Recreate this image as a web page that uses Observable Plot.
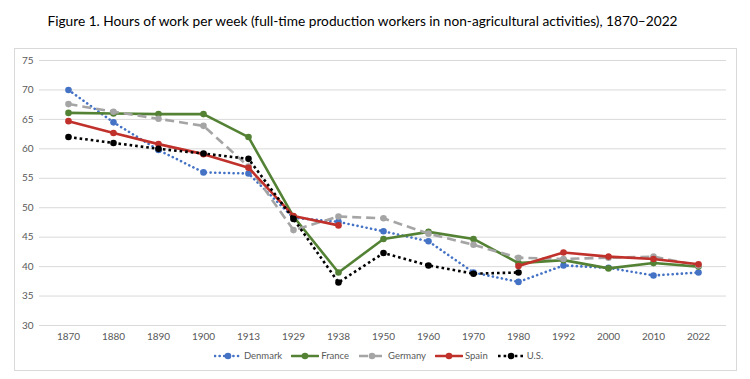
<!DOCTYPE html>
<html>
<head>
<meta charset="utf-8">
<script src="https://cdn.jsdelivr.net/npm/d3@7"></script>
<script src="https://cdn.jsdelivr.net/npm/@observablehq/plot@0.6"></script>
<style>
  html, body { margin: 0; padding: 0; background: #fff; }
  body { width: 750px; height: 379px; position: relative; overflow: hidden; font-family: Lato, "Open Sans", sans-serif; }
  #title { position: absolute; left: 0; width: 725px; top: 12px; text-align: center; font-size: 13.7px; color: #000; white-space: nowrap; }
  #frame { position: absolute; left: 14px; top: 48px; width: 721px; height: 321px; border: 1px solid #d9d9d9; }
  #chart { position: absolute; left: 0; top: 0; }
  #legend { position: absolute; left: 0; right: 0; top: 301px; display: flex; justify-content: center; gap: 9px; font-size: 9.5px; color: #595959; padding-left: 6px; }
  .item { display: flex; align-items: center; gap: 2px; }
</style>
</head>
<body>
<div id="title">Figure 1. Hours of work per week (full-time production workers in non-agricultural activities), 1870–2022</div>
<div id="frame">
  <div id="chart"></div>
  <div id="legend"></div>
</div>
<script>
const years = ["1870","1880","1890","1900","1913","1929","1938","1950","1960","1970","1980","1992","2000","2010","2022"];
const yTicks = [30,35,40,45,50,55,60,65,70,75];
const seriesNames = ["Denmark","France","Germany","Spain","U.S."];
const denmark = [70.0,64.5,59.8,56.0,55.8,48.3,47.6,46.0,44.3,39.0,37.4,40.2,39.8,38.5,39.0];
const france  = [66.1,66.0,65.9,65.9,62.0,48.5,39.0,44.7,45.9,44.7,40.6,41.1,39.7,40.6,40.0];
const germany = [67.6,66.3,65.1,63.9,57.0,46.2,48.5,48.2,45.6,43.7,41.5,41.3,41.5,41.7,40.2];
const spain   = [64.7,62.7,60.8,59.1,56.8,48.6,47.0,null,null,null,40.1,42.4,41.7,41.3,40.4];
const us      = [62.0,61.0,60.0,59.2,58.3,48.1,37.3,42.3,40.2,38.8,39.0,null,null,null,null];

const styles = {
  "Denmark": {color: "#4472C4", dash: "0.1,4.5", width: 2.6, cap: "round"},
  "France":  {color: "#548235", dash: null, width: 2.6, cap: "round"},
  "Germany": {color: "#A5A5A5", dash: "9,5", width: 2.6, cap: "butt"},
  "Spain":   {color: "#C0312B", dash: null, width: 2.6, cap: "round"},
  "U.S.":    {color: "#000000", dash: "2.6,3", width: 2.6, cap: "butt"}
};
const valueArrays = [denmark, france, germany, spain, us];

const marks = [
  Plot.gridY(yTicks, {stroke: "#d9d9d9", strokeOpacity: 1, strokeWidth: 1})
];
seriesNames.forEach((name, i) => {
  const rows = years.map((y, j) => ({year: y, value: valueArrays[i][j], series: name}));
  const s = styles[name];
  marks.push(Plot.line(rows, {x: "year", y: "value", stroke: s.color, strokeWidth: s.width,
    strokeDasharray: s.dash || undefined, strokeLinecap: s.cap, strokeLinejoin: "round"}));
  marks.push(Plot.dot(rows.filter(d => d.value != null), {x: "year", y: "value", r: 3.3, fill: s.color, stroke: "none"}));
});

const chart = Plot.plot({
  width: 721,
  height: 298,
  marginLeft: 24,
  marginRight: 10,
  marginTop: 11,
  marginBottom: 22,
  style: {fontFamily: "Lato, 'Open Sans', sans-serif", fontSize: "10px", color: "#595959", background: "transparent"},
  x: {type: "point", domain: years, padding: 0.5, label: null, tickSize: 0, tickPadding: 7},
  y: {domain: [30, 75], ticks: yTicks, label: null, tickSize: 0, tickPadding: 6},
  marks
});
document.getElementById("chart").appendChild(chart);

const legend = document.getElementById("legend");
seriesNames.forEach(name => {
  const s = styles[name];
  const item = document.createElement("div");
  item.className = "item";
  const ns = "http://www.w3.org/2000/svg";
  const svg = document.createElementNS(ns, "svg");
  svg.setAttribute("width", 28); svg.setAttribute("height", 10);
  const line = document.createElementNS(ns, "line");
  line.setAttribute("x1", 1); line.setAttribute("x2", 27); line.setAttribute("y1", 5); line.setAttribute("y2", 5);
  line.setAttribute("stroke", s.color); line.setAttribute("stroke-width", s.width);
  if (s.dash) line.setAttribute("stroke-dasharray", s.dash);
  line.setAttribute("stroke-linecap", s.cap);
  const c = document.createElementNS(ns, "circle");
  c.setAttribute("cx", 14); c.setAttribute("cy", 5); c.setAttribute("r", 3.3); c.setAttribute("fill", s.color);
  svg.appendChild(line); svg.appendChild(c);
  const label = document.createElement("span");
  label.textContent = name;
  item.appendChild(svg); item.appendChild(label);
  legend.appendChild(item);
});
</script>
</body>
</html>
